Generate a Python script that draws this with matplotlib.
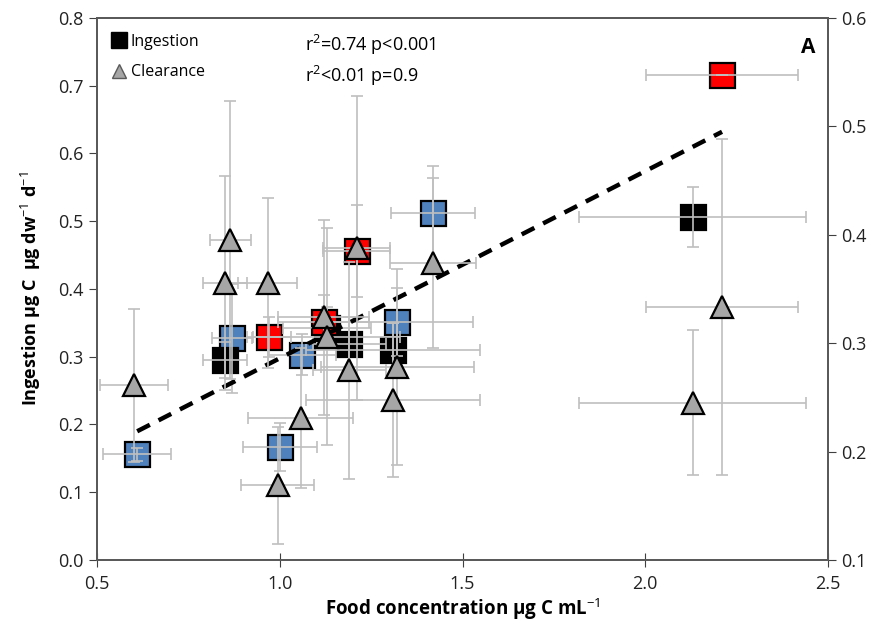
import matplotlib
matplotlib.use('Agg')
import matplotlib.pyplot as plt
from matplotlib.lines import Line2D

plt.rcParams['font.family'] = ['Open Sans', 'DejaVu Sans']
plt.rcParams['mathtext.fontset'] = 'custom'
plt.rcParams['mathtext.rm'] = 'Open Sans'
plt.rcParams['mathtext.bf'] = 'Open Sans:bold'

# ingestion (left axis), squares by colour group
blue_x = [0.61, 0.87, 1.06, 1.00, 1.42, 1.32]
blue_y = [0.156, 0.327, 0.303, 0.167, 0.512, 0.351]
blue_xerr = [0.093, 0.055, 0.093, 0.101, 0.115, 0.21]
blue_yerr = [0.01, 0.08, 0.03, 0.035, 0.07, 0.05]

red_x = [0.97, 1.12, 1.21, 2.21]
red_y = [0.329, 0.351, 0.456, 0.716]
red_xerr = [0.06, 0.125, 0.093, 0.209]
red_yerr = [0.03, 0.04, 0.068, 0.0]

black_x = [0.85, 1.13, 1.19, 1.31, 2.13]
black_y = [0.295, 0.343, 0.319, 0.310, 0.506]
black_xerr = [0.06, 0.12, 0.1, 0.238, 0.31]
black_yerr = [0.027, 0.03, 0.04, 0.04, 0.044]

# clearance (right axis), triangles
clear_x = [0.60, 0.865, 0.85, 0.967, 1.057, 0.995, 1.12, 1.128,
           1.21, 1.42, 1.19, 1.322, 1.309, 2.21, 2.13]
clear_y = [0.261, 0.395, 0.3555, 0.3555, 0.231, 0.169, 0.324, 0.306,
           0.388, 0.374, 0.275, 0.278, 0.2476, 0.333, 0.245]
clear_xerr = [0.093, 0.056, 0.06, 0.08, 0.143, 0.1, 0.125, 0.2,
              0.093, 0.117, 0.1, 0.21, 0.238, 0.209, 0.31]
clear_yerr = [0.071, 0.128, 0.099, 0.078, 0.065, 0.054, 0.09, 0.1,
              0.14, 0.078, 0.1, 0.09, 0.071, 0.155, 0.067]

# ingestion regression line end points
trend_x = [0.61, 2.21]
trend_y = [0.19, 0.632]

err_kw = dict(ecolor='#bfbfbf', elinewidth=1.2, capsize=4, capthick=1.2)
sq_kw = dict(marker='s', markersize=18, markeredgecolor='black',
             markeredgewidth=1.6, linestyle='none')

fig = plt.figure(figsize=(8.84, 6.36), dpi=100)
ax = fig.add_axes([0.1097, 0.1195, 0.827, 0.8522])

for xs, ys, xe, ye, col in [
    (blue_x, blue_y, blue_xerr, blue_yerr, '#4f81bd'),
    (black_x, black_y, black_xerr, black_yerr, 'black'),
    (red_x, red_y, red_xerr, red_yerr, '#ff0000'),
]:
    ax.plot(xs, ys, markerfacecolor=col, zorder=2, **sq_kw)
    ax.errorbar(xs, ys, xerr=xe, yerr=ye, fmt='none', zorder=3, **err_kw)

ax.plot(trend_x, trend_y, color='black', linestyle=(0, (3.2, 2.2)),
        linewidth=3.2, zorder=4)

ax.set_xlim(0.5, 2.5)
ax.set_ylim(0.0, 0.8)
ax.set_xticks([0.5, 1.0, 1.5, 2.0, 2.5])
ax.set_yticks([0.0, 0.1, 0.2, 0.3, 0.4, 0.5, 0.6, 0.7, 0.8])
ax.xaxis.set_major_formatter(matplotlib.ticker.FormatStrFormatter('%.1f'))
ax.yaxis.set_major_formatter(matplotlib.ticker.FormatStrFormatter('%.1f'))
ax.tick_params(axis='y', direction='out', length=6, labelsize=13,
               colors='#404040', labelcolor='#222222')
ax.tick_params(axis='x', direction='inout', length=10, labelsize=13,
               colors='#404040', labelcolor='#222222', pad=6)

ax2 = ax.twinx()
ax2.errorbar(clear_x, clear_y, xerr=clear_xerr, yerr=clear_yerr,
             fmt='none', zorder=2, **err_kw)
ax2.plot(clear_x, clear_y, marker='^', markersize=15.5,
         markerfacecolor='#a6a6a6', markeredgecolor='black',
         markeredgewidth=1.6, linestyle='none', zorder=3)
ax2.set_ylim(0.1, 0.6)
ax2.set_yticks([0.1, 0.2, 0.3, 0.4, 0.5, 0.6])
ax2.yaxis.set_major_formatter(matplotlib.ticker.FormatStrFormatter('%.1f'))
ax2.tick_params(axis='y', direction='out', length=6, labelsize=13,
                colors='#404040', labelcolor='#222222')

for a in (ax, ax2):
    for s in a.spines.values():
        s.set_color('#595959')
        s.set_linewidth(1.3)

ax.set_xlabel('Food concentration µg C mL$^{-1}$', fontsize=13.5,
              fontweight='bold', labelpad=2)
ax.set_ylabel('Ingestion µg C  µg dw$^{-1}$ d$^{-1}$', fontsize=13,
              fontweight='bold', labelpad=11)

handles = [
    Line2D([], [], marker='s', color='black', markersize=11,
           linestyle='none', label='Ingestion'),
    Line2D([], [], marker='^', markerfacecolor='#a6a6a6',
           markeredgecolor='#595959', markersize=10, linestyle='none',
           label='Clearance'),
]
ax.legend(handles=handles, loc='upper left', bbox_to_anchor=(0.0, 1.0),
          frameon=False, fontsize=11.5, handlelength=0.8,
          handletextpad=0.3, labelspacing=0.9, borderaxespad=0.6)

ax.text(0.284, 0.950, 'r$^2$=0.74 p<0.001', transform=ax.transAxes,
        fontsize=13, va='center', ha='left')
ax.text(0.284, 0.893, 'r$^2$<0.01 p=0.9', transform=ax.transAxes,
        fontsize=13, va='center', ha='left')
ax.text(0.973, 0.946, 'A', transform=ax.transAxes, fontsize=15,
        fontweight='bold', va='center', ha='center')

fig.savefig('out.png', dpi=100)
